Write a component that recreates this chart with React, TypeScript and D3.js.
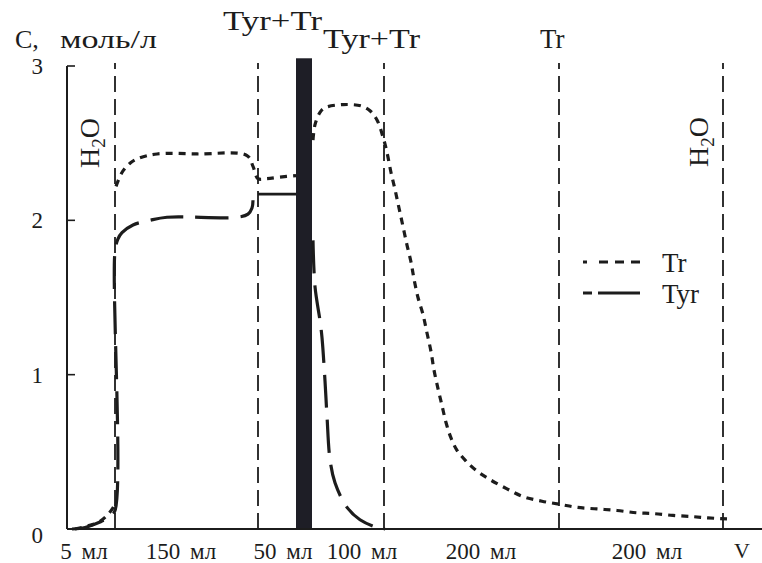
import React from "react";
import * as d3 from "d3";

// x in arbitrary volume-position units (0..695), y in моль/л
const trBottom: [number, number][] = [
  [8, 0.0], [21, 0.02], [33, 0.05], [43, 0.11], [48, 0.16],
];
const trPlateau1: [number, number][] = [
  [49, 2.22], [55, 2.31], [63, 2.37], [71, 2.4], [90, 2.43], [130, 2.43], [180, 2.42],
  [186, 2.35], [191, 2.27], [200, 2.27], [213, 2.28], [229, 2.29],
];
const trMain: [number, number][] = [
  [246, 2.52], [248, 2.62], [253, 2.7], [258, 2.73], [276, 2.75], [295, 2.74], [303, 2.71],
  [310, 2.65], [316, 2.54], [320, 2.44], [324, 2.31], [328, 2.2], [332, 2.08], [336, 1.96],
  [340, 1.84], [344, 1.73], [347, 1.62], [351, 1.5], [356, 1.39], [360, 1.27], [364, 1.15],
  [367, 1.03], [371, 0.91], [375, 0.8], [379, 0.69], [384, 0.59], [390, 0.51], [399, 0.44],
  [409, 0.38], [423, 0.32], [440, 0.26], [456, 0.21], [475, 0.18], [493, 0.16], [510, 0.14],
  [530, 0.13], [550, 0.12], [570, 0.105], [586, 0.1], [606, 0.088], [626, 0.08], [641, 0.072],
  [660, 0.065],
];
const tyrLeft: [number, number][] = [
  [5, 0.0], [18, 0.01], [33, 0.045], [43, 0.08], [48, 0.12], [48, 1.8], [51, 1.88], [55, 1.92],
  [66, 1.97], [83, 2.0], [100, 2.02], [170, 2.02], [181, 2.04], [185, 2.08], [186, 2.13],
];
const tyrMid: [number, number][] = [
  [191, 2.17], [229, 2.17],
];
const tyrRight: [number, number][] = [
  [246, 1.87], [248, 1.57], [253, 1.35], [255, 1.24], [258, 0.96], [260, 0.73], [263, 0.45],
  [268, 0.3], [280, 0.14], [293, 0.06], [310, 0.01], [318, 0.0],
];

const boundaries = [48, 191, 317, 492, 656];
const band = [229, 245];
const yTicks = [0, 1, 2, 3];
const segLabels = ["5 мл", "150 мл", "50 мл", "100 мл", "200 мл", "200 мл"];
const segLabelPos = [17, 114, 216, 295, 414, 580];
const legendItems = ["Tr", "Tyr"];

const W = 762;
const H = 563;
const FONT = "Liberation Serif";
const INK = "#1c1c1c";

export default function App() {
  const x = d3.scaleLinear().domain([0, 695]).range([67, 762]);
  const y = d3.scaleLinear().domain([0, 3]).range([529, 66]);
  const line = d3
    .line<[number, number]>()
    .x((d) => x(d[0]))
    .y((d) => y(d[1]))
    .curve(d3.curveCatmullRom.alpha(0.5));

  const trStyle = { fill: "none", stroke: INK, strokeWidth: 3.2, strokeDasharray: "7 6" };
  const tyrStyle = { fill: "none", stroke: INK, strokeWidth: 3.2, strokeDasharray: "33 12" };
  const txt = { fontFamily: FONT, fill: INK } as React.CSSProperties;

  return (
    <div style={{ position: "absolute", left: 0, top: 0 }}>
      <svg width={W} height={H} style={{ display: "block", background: "#fff", fontFamily: FONT }}>
        <rect width={W} height={H} fill="#fff" />
        {/* boundary dashed lines */}
        {boundaries.map((b, i) => (
          <line
            key={i}
            x1={x(b)}
            x2={x(b)}
            y1={y(0)}
            y2={y(3.02)}
            stroke={INK}
            strokeWidth={1.8}
            strokeDasharray="16 7"
          />
        ))}
        {/* black band */}
        <rect
          x={x(band[0])}
          y={y(3.05)}
          width={x(band[1]) - x(band[0])}
          height={y(0) - y(3.05)}
          fill="#1e1e26"
        />
        {/* axes */}
        <line x1={x(0)} x2={x(0)} y1={y(0)} y2={y(3)} stroke={INK} strokeWidth={2} />
        <line x1={x(0)} x2={W} y1={y(0)} y2={y(0)} stroke={INK} strokeWidth={2.2} />
        {yTicks.map((t) => (
          <g key={t}>
            {t > 0 && (
              <line x1={x(0)} x2={x(0) + 8} y1={y(t)} y2={y(t)} stroke={INK} strokeWidth={1.6} />
            )}
            <text x={43} y={y(t) + (t === 0 ? 14 : 8)} textAnchor="end" fontSize={23} style={txt}>
              {t}
            </text>
          </g>
        ))}
        {/* curves */}
        <path d={line(trBottom) || ""} style={trStyle} strokeDasharray="4 4" strokeWidth={2.2} />
        <path d={line(trPlateau1) || ""} style={trStyle} />
        <path d={line(trMain) || ""} style={trStyle} />
        <path d={line(tyrLeft) || ""} style={tyrStyle} />
        <path d={line(tyrMid) || ""} fill="none" stroke={INK} strokeWidth={2.6} />
        <path d={line(tyrRight) || ""} style={tyrStyle} />

        {/* titles */}
        <text x={15} y={48} fontSize={26} style={txt}>C,</text>
        <text x={60} y={48} fontSize={26} style={txt} textLength={97} lengthAdjust="spacingAndGlyphs">
          моль/л
        </text>
        <text x={223} y={30} fontSize={27} style={txt} textLength={99} lengthAdjust="spacingAndGlyphs">
          Tyr+Tr
        </text>
        <text x={323} y={48} fontSize={27} style={txt} textLength={97} lengthAdjust="spacingAndGlyphs">
          Tyr+Tr
        </text>
        <text x={540} y={48} fontSize={27} style={txt}>
          Tr
        </text>
        {/* H2O rotated labels */}
        {[99, 708].map((px, i) => (
          <text
            key={i}
            transform={`translate(${px},${i === 0 ? 168 : 167}) rotate(-90)`}
            fontSize={28}
            style={txt}
          >
            H<tspan fontSize={19} dy={6}>2</tspan>
            <tspan dy={-6}>O</tspan>
          </text>
        ))}
        {/* bottom segment labels */}
        {segLabels.map((s, i) => (
          <text
            key={i}
            x={x(segLabelPos[i])}
            y={559}
            fontSize={23}
            textAnchor="middle"
            style={{ ...txt, wordSpacing: "4px" }}
          >
            {s}
          </text>
        ))}
        <text x={734} y={558} fontSize={22} style={txt}>V</text>
        {/* legend */}
        {legendItems.map((name, i) => (
          <g key={name}>
            <line
              x1={583}
              x2={640}
              y1={262 + i * 31}
              y2={262 + i * 31}
              stroke={INK}
              strokeWidth={3}
              strokeDasharray={i === 0 ? "4 12 9 7 9 7 9" : "9 6 42"}
            />
            <text x={662} y={272 + i * 31} fontSize={27} style={txt}>
              {name}
            </text>
          </g>
        ))}
      </svg>
    </div>
  );
}
